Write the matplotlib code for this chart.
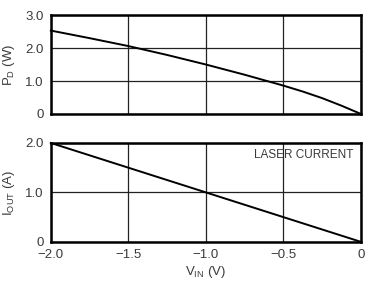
import matplotlib
matplotlib.use("Agg")
import matplotlib.pyplot as plt
import numpy as np

plt.rcParams["font.family"] = "Liberation Sans"
plt.rcParams["mathtext.fontset"] = "custom"
plt.rcParams["mathtext.rm"] = "Liberation Sans"

# power dissipation vs input voltage
vin_pd = [-2.0, -1.75, -1.5, -1.25, -1.0, -0.75, -0.5, -0.375, -0.25, -0.125, 0.0]
pd_w = [2.53, 2.30, 2.06, 1.79, 1.50, 1.19, 0.86, 0.68, 0.48, 0.25, 0.0]

# laser current vs input voltage
vin_i = [-2.0, -1.0, 0.0]
iout_a = [2.0, 1.0, 0.0]

xticks = [-2.0, -1.5, -1.0, -0.5, 0.0]
xticklabels = ["\u22122.0", "\u22121.5", "\u22121.0", "\u22120.5", "0"]

txt = "#3a3a3a"
fs = 9.5
fig = plt.figure(figsize=(3.71, 2.90), dpi=100)
ax1 = fig.add_axes([0.137, 0.607, 0.836, 0.341])
ax2 = fig.add_axes([0.137, 0.166, 0.836, 0.341])

for ax in (ax1, ax2):
    ax.set_xlim(-2.0, 0.0)
    ax.set_xticks(xticks)
    ax.grid(True, color="#222222", linewidth=0.9)
    ax.set_axisbelow(True)
    for s in ax.spines.values():
        s.set_linewidth(1.8)
        s.set_color("black")
    ax.tick_params(length=0, labelsize=fs, colors=txt, pad=5)

ax1.plot(vin_pd, pd_w, color="black", linewidth=1.4, clip_on=False)
ax1.set_ylim(0, 3.0)
ax1.set_yticks([0, 1, 2, 3])
ax1.set_yticklabels(["0", "1.0", "2.0", "3.0"])
ax1.set_xticklabels([])
ax1.set_ylabel(r"$\mathregular{P_D}$ (W)", fontsize=fs, color=txt, labelpad=6)

ax2.plot(vin_i, iout_a, color="black", linewidth=1.4, clip_on=False)
ax2.set_ylim(0, 2.0)
ax2.set_yticks([0, 1, 2])
ax2.set_yticklabels(["0", "1.0", "2.0"])
ax2.set_xticklabels(xticklabels)
ax2.set_ylabel(r"$\mathregular{I_{OUT}}$ (A)", fontsize=fs, color=txt, labelpad=6)
ax2.set_xlabel(r"$\mathregular{V_{IN}}$ (V)", fontsize=fs, color=txt, labelpad=2)
ax2.text(0.975, 0.875, "LASER CURRENT", transform=ax2.transAxes, ha="right",
         va="center", fontsize=8.5, color=txt)

fig.savefig("out.png", dpi=100)
